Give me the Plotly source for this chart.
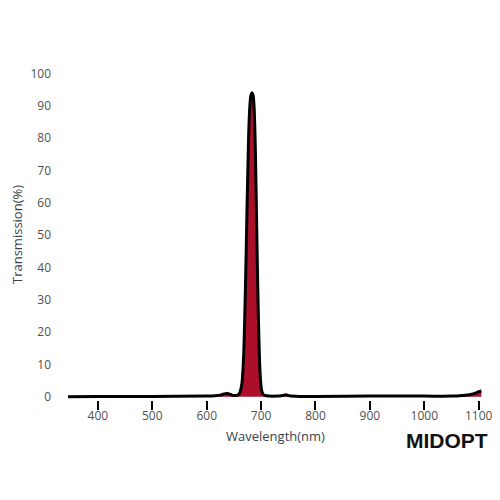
import plotly.graph_objects as go

wavelength = [345, 400, 500, 600, 615, 625, 632, 638, 644, 650, 655, 659, 662, 665, 668, 671, 674, 677, 679, 681, 683, 685, 687, 689, 691, 693, 695, 697, 699, 701, 704, 710, 730, 740, 746, 752, 770, 800, 900, 1000, 1050, 1070, 1085, 1095, 1100, 1105]
transmission = [0.0, 0.1, 0.1, 0.2, 0.3, 0.5, 0.9, 1.0, 0.7, 0.4, 0.4, 0.8, 1.8, 4.5, 13, 32, 57, 80, 89, 93, 94, 93.5, 90, 80, 62, 42, 25, 12, 5, 2, 0.7, 0.3, 0.2, 0.4, 0.6, 0.3, 0.1, 0.1, 0.2, 0.2, 0.2, 0.4, 0.7, 1.2, 1.6, 1.8]

x_ticks = [400, 500, 600, 700, 800, 900, 1000, 1100]
y_ticks = [0, 10, 20, 30, 40, 50, 60, 70, 80, 90, 100]

# page has an 8px body offset; margins are in figure coordinates
OFF = 8
L, R, T, B = 68 - OFF, 25, 67 - OFF, 108
W = H = 500
PW, PH = W - L - R, H - T - B


def px_x(p):  # page pixel -> paper x
    return (p - OFF - L) / PW


def px_y(p):  # page pixel -> paper y
    return (H - B - (p - OFF)) / PH


fig = go.Figure()
fig.add_trace(go.Scatter(
    x=wavelength, y=transmission, mode="lines",
    line=dict(color="black", width=3, shape="spline", smoothing=0.8),
    fill="tozeroy", fillcolor="#ab0f2a",
    hoverinfo="skip", showlegend=False,
))

fig.update_layout(
    width=W, height=H,
    margin=dict(l=L, r=R, t=T, b=B),
    paper_bgcolor="white", plot_bgcolor="white",
    font=dict(family="Open Sans, sans-serif", color="#505050", size=12),
    xaxis=dict(
        range=[345, 1108], tickvals=x_ticks, showgrid=False, zeroline=False,
        showline=False, ticks="outside", ticklen=9, tickwidth=2, tickcolor="black",
        automargin=False, ticklabelstandoff=-4,
        tickfont=dict(size=12, color="#505050"),
    ),
    yaxis=dict(
        range=[-1, 102], tickvals=y_ticks, showgrid=False, zeroline=False,
        showline=False, ticks="", ticklabelstandoff=16, automargin=False,
        tickfont=dict(size=12, color="#505050"),
    ),
    annotations=[
        dict(x=px_x(447), y=px_y(440), xref="paper", yref="paper",
             xanchor="center", yanchor="middle", text="<b>MIDOPT</b>", showarrow=False,
             font=dict(family="Liberation Sans, Arial, sans-serif", size=21, color="#111111")),
        dict(x=px_x(275), y=px_y(436), xref="paper", yref="paper",
             xanchor="center", yanchor="middle", text="Wavelength(nm)", showarrow=False,
             font=dict(size=13, color="#3a3f4a")),
        dict(x=px_x(17), y=px_y(235), xref="paper", yref="paper",
             xanchor="center", yanchor="middle", text="Transmission(%)", showarrow=False,
             textangle=-90, font=dict(size=13, color="#3a3f4a")),
    ],
)

fig.write_html("out.html")
